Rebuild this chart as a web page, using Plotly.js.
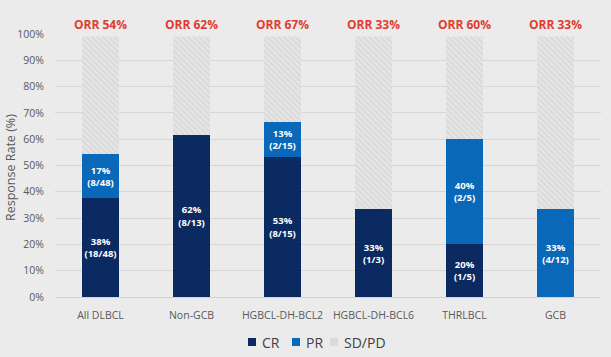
<!DOCTYPE html>
<html><head><meta charset="utf-8">
<script src="https://cdn.plot.ly/plotly-3.0.1.min.js"></script>
<style>html,body{margin:0;padding:0;background:#ebebeb;}#c{width:611px;height:357px;}</style>
</head><body><div id="c"></div>
<script>
const categories = ["All DLBCL","Non-GCB","HGBCL-DH-BCL2","HGBCL-DH-BCL6","THRLBCL","GCB"];
const crValues = [37.5, 61.5, 53.3, 33.3, 20, 0];
const prValues = [16.7, 0, 13.3, 0, 40, 33.3];
const sdpdValues = [45.8, 38.5, 33.4, 66.7, 40, 66.7];
const crLabels = ["38%<br>(18/48)","62%<br>(8/13)","53%<br>(8/15)","33%<br>(1/3)","20%<br>(1/5)",""];
const prLabels = ["17%<br>(8/48)","","13%<br>(2/15)","","40%<br>(2/5)","33%<br>(4/12)"];
const orrLabels = ["ORR 54%","ORR 62%","ORR 67%","ORR 33%","ORR 60%","ORR 33%"];
const seriesNames = ["CR","PR","SD/PD"];
const seriesColors = ["#0c2a62","#0a68b8","#d9d9d9"];

const font = "Open Sans, Noto Sans, sans-serif";
const txtFont = {family: font, size: 9.5, color: "#ffffff", weight: "bold"};
const traces = [
  {type:"bar", name:seriesNames[0], x:categories, y:crValues, text:crLabels, textposition:"inside", textangle:0,
   constraintext:"none", insidetextanchor:"middle", textfont:txtFont, marker:{color:seriesColors[0]}, hoverinfo:"none"},
  {type:"bar", name:seriesNames[1], x:categories, y:prValues, text:prLabels, textposition:"inside", textangle:0,
   constraintext:"none", insidetextanchor:"middle", textfont:txtFont, marker:{color:seriesColors[1]}, hoverinfo:"none"},
  {type:"bar", name:seriesNames[2], x:categories, y:sdpdValues, textposition:"none",
   marker:{color:"#e4e4e4", pattern:{shape:"\\", fgcolor:"#d6d6d6", bgcolor:"#e5e5e5", size:4, solidity:0.35}}, hoverinfo:"none"}
];
const L = 55, W = 546, B = 297, H = 263;
const px = p => (p - L) / W;
const py = p => (B - p) / H;
const annotations = categories.map((c,i)=>({x:c, y:100, yref:"y", xref:"x", text:"<b>"+orrLabels[i]+"</b>",
  showarrow:false, yanchor:"middle", yshift:10, font:{family:font, size:12, color:"#e03b2f"}, bgcolor:"#ebebeb", borderpad:3}));
annotations.push({xref:"paper", yref:"paper", x:px(10), y:py(168), xanchor:"center", yanchor:"middle",
  text:"Response Rate (%)", textangle:-90, showarrow:false, font:{family:font, size:12.5, color:"#595959"}});
// custom legend
const legSwatchX = [248, 292, 330];
const legTextX = [260, 304, 342];
const shapes = [];
seriesNames.forEach((n,i)=>{
  shapes.push({type:"rect", xref:"paper", yref:"paper", x0:px(legSwatchX[i]), x1:px(legSwatchX[i]+8),
    y0:py(346), y1:py(338), fillcolor:seriesColors[i], line:{width:0}});
  annotations.push({xref:"paper", yref:"paper", x:px(legTextX[i]), y:py(342), xanchor:"left", yanchor:"middle",
    showarrow:false, text:n, font:{family:font, size:14, color:"#404040"}});
});
const layout = {
  width:611, height:357, barmode:"stack", bargap:0.6,
  paper_bgcolor:"#ebebeb", plot_bgcolor:"#ebebeb",
  margin:{l:L, r:611-L-W, t:34, b:357-B},
  font:{family:font, color:"#595959"},
  xaxis:{tickfont:{family:font, size:10.5, color:"#595959"}, showline:true, linecolor:"#d4d4d4", ticks:"", showgrid:false,
    automargin:false, ticklabelstandoff:8},
  yaxis:{range:[0,100], dtick:10, ticksuffix:"%", tickfont:{family:font, size:10.5, color:"#595959"},
    gridcolor:"#d6d6d6", gridwidth:1, zeroline:false, ticklabelstandoff:10, automargin:false},
  showlegend:false,
  annotations:annotations, shapes:shapes
};
Plotly.newPlot("c", traces, layout, {staticPlot:true});
</script></body></html>
